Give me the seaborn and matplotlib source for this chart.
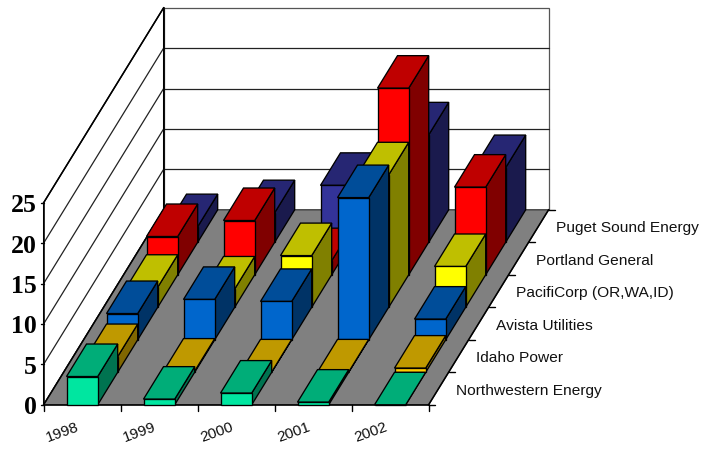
import matplotlib
matplotlib.use("Agg")
import matplotlib.pyplot as plt
from matplotlib.patches import Polygon
import pandas as pd
import seaborn as sns

years = ["1998", "1999", "2000", "2001", "2002"]
companies = ["Northwestern Energy", "Idaho Power", "Avista Utilities",
             "PacifiCorp (OR,WA,ID)", "Portland General", "Puget Sound Energy"]

northwestern = [3.5, 0.7, 1.45, 0.33, 0.0]
idaho = [1.95, 0.15, 0.05, 0.05, 0.52]
avista = [3.25, 5.0, 4.75, 17.6, 2.56]
pacificorp = [2.48, 2.27, 6.4, 16.4, 5.05]
portland = [4.74, 6.72, 1.75, 23.1, 10.85]
puget = [1.94, 3.67, 7.05, 13.3, 9.25]

face_colors = ["#00E6A0", "#FFCC00", "#0066CC", "#FFFF00", "#FF0000", "#333399"]
value_ticks = [0, 5, 10, 15, 20, 25]

table = pd.DataFrame(
    [northwestern, idaho, avista, pacificorp, portland, puget],
    index=companies, columns=years,
)

sns.set_theme(style="white")
fig, ax = plt.subplots(figsize=(7.03, 4.49), dpi=100)
fig.subplots_adjust(0, 0, 1, 1)
ax.set_xlim(0, 703)
ax.set_ylim(449, 0)
ax.axis("off")

# Oblique projection: category slot, series depth and value to figure pixels.
ORIGIN_X, ORIGIN_Y = 43.6, 404.8
SLOT_W = 77.0
DEPTH_DX, DEPTH_DY = 20.0, -32.5
UNIT_H = 8.08
BAR_W = 0.405


def project(slot, depth, value=0.0):
    return (ORIGIN_X + slot * SLOT_W + depth * DEPTH_DX,
            ORIGIN_Y + depth * DEPTH_DY - value * UNIT_H)


def shade(color, factor):
    r, g, b = matplotlib.colors.to_rgb(color)
    return (r * factor, g * factor, b * factor)


def quad(points, face, z, edge="black", lw=0.95):
    ax.add_patch(Polygon(points, closed=True, facecolor=face, edgecolor=edge,
                         linewidth=lw, joinstyle="miter", zorder=z))


n_slots, n_depth = len(years), len(companies)
top_value = value_ticks[-1]

# Walls and floor
quad([project(0, n_depth, 0), project(n_slots, n_depth, 0),
      project(n_slots, n_depth, top_value), project(0, n_depth, top_value)],
     "white", 1, edge="#555555", lw=0.9)
quad([project(0, 0, 0), project(0, n_depth, 0),
      project(0, n_depth, top_value), project(0, 0, top_value)],
     "white", 1, edge="black", lw=0.9)
quad([project(0, 0), project(n_slots, 0), project(n_slots, n_depth), project(0, n_depth)],
     "#808080", 2, edge="#333333", lw=0.9)

for v in value_ticks[1:-1]:
    pts = [project(0, 0, v), project(0, n_depth, v), project(n_slots, n_depth, v)]
    ax.plot(*zip(*pts[:2]), color="#222222", lw=0.9, zorder=1.5)
    ax.plot(*zip(*pts[1:]), color="#222222", lw=0.9, zorder=1.5)

# Axis lines
for a, b in [(project(0, 0), project(n_slots, 0)),
             (project(0, 0), project(0, n_depth)),
             (project(n_slots, 0), project(n_slots, n_depth)),
             (project(0, 0), project(0, 0, top_value)),
             (project(0, 0, top_value), project(0, n_depth, top_value)),
             (project(0, n_depth), project(0, n_depth, top_value))]:
    ax.plot(*zip(a, b), color="black", lw=1.1, zorder=3, solid_capstyle="projecting")

# Bars, painted from the back row to the front row
zorder = 4.0
for d in range(n_depth - 1, -1, -1):
    base = face_colors[d]
    for s, year in enumerate(years):
        v = table.loc[companies[d], year]
        left = s + 0.5 - BAR_W / 2
        right = s + 0.5 + BAR_W / 2
        quad([project(right, d, 0), project(right, d + 1, 0),
              project(right, d + 1, v), project(right, d, v)], shade(base, 0.5), zorder)
        quad([project(left, d, v), project(right, d, v),
              project(right, d + 1, v), project(left, d + 1, v)], shade(base, 0.75), zorder)
        quad([project(left, d, 0), project(right, d, 0),
              project(right, d, v), project(left, d, v)], base, zorder)
        zorder += 0.01

# Value axis ticks and labels
for v in value_ticks:
    x, y = project(0, 0, v)
    ax.plot([x - 3, x], [y, y], color="black", lw=1.0, zorder=3)
    ax.text(x - 7, y + 2.8, str(v), ha="right", va="center", family="Liberation Serif",
            fontweight="bold", fontsize=18.5, color="black")

# Category axis ticks and labels
for s in range(n_slots + 1):
    x, y = project(s, 0)
    ax.plot([x, x], [y, y + 6], color="black", lw=1.0, zorder=3)
for s, year in enumerate(years):
    x, y = project(s + 0.5, 0)
    ax.text(x - 19.5, y + 27.5, year, ha="center", va="center", rotation=20,
            family="Liberation Sans", fontsize=11, color="#111111")

# Series axis ticks and labels
for d in range(n_depth + 1):
    x, y = project(n_slots, d)
    ax.plot([x, x + 6], [y, y], color="black", lw=1.0, zorder=3)
for d, name in enumerate(companies):
    x, y = project(n_slots, d + 0.5)
    ax.text(x + 17.5, y + 2, name, ha="left", va="center",
            family="Liberation Sans", fontsize=11.15, color="#111111")

fig.savefig("out.png", dpi=100)
